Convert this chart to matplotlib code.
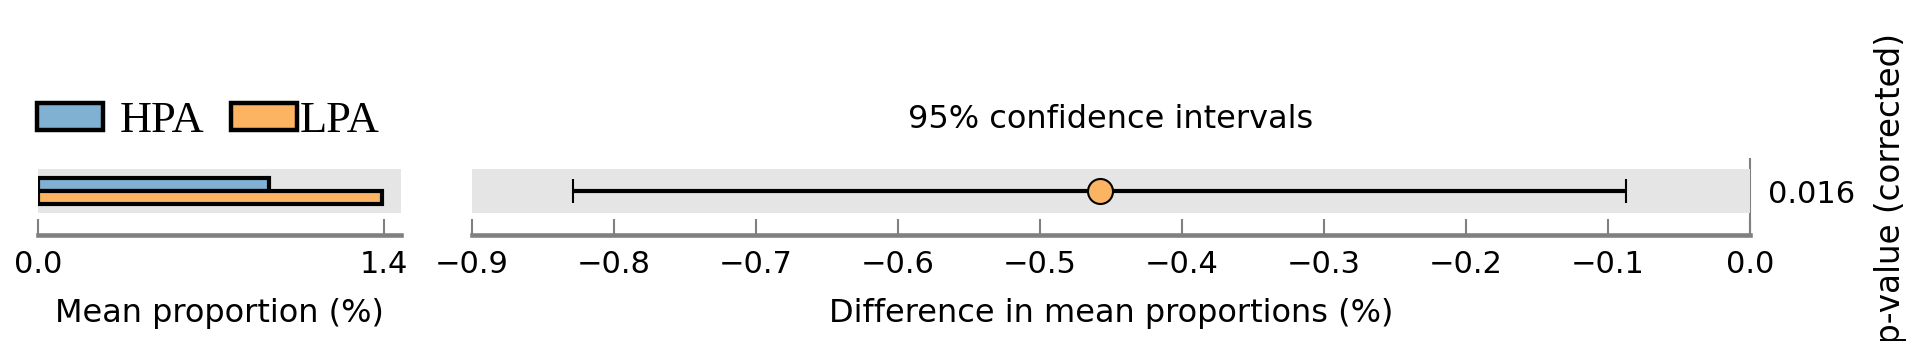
import matplotlib
matplotlib.use("Agg")
import matplotlib.pyplot as plt
from matplotlib.patches import Patch

# ── Data ────────────────────────────────────────────────────
GROUPS = ["HPA", "LPA"]
GROUP_COLORS = ["#80B1D3", "#FDB462"]
MEAN_PROP = [0.934, 1.392]          # mean proportion (%) per group
DIFF = -0.458                       # difference in mean proportions (%)
CI_LOW, CI_HIGH = -0.829, -0.087    # 95% confidence interval
P_VALUE = "0.016"
LEFT_TICKS = [0.0, 1.4]
RIGHT_TICKS = [-0.9, -0.8, -0.7, -0.6, -0.5, -0.4, -0.3, -0.2, -0.1, 0.0]

W, H, DPI = 1917, 341, 100
GRAY = "#808080"
BAND = "#E5E5E5"
plt.rcParams.update({
    "font.family": "DejaVu Sans",
    "font.size": 22,
})


def fmt(v):
    return f"{v:.1f}".replace("-", "\u2212")


fig = plt.figure(figsize=(W / DPI, H / DPI), dpi=DPI)
bottom = 1 - 234.5 / H
height = 75.5 / H
ax1 = fig.add_axes([38 / W, bottom, 363 / W, height])
ax2 = fig.add_axes([472 / W, bottom, 1278 / W, height])

YLIM = (-0.99, 0.73)


def style_axis(ax):
    for side in ("left", "top", "right"):
        ax.spines[side].set_visible(False)
    ax.spines["bottom"].set_color(GRAY)
    ax.spines["bottom"].set_linewidth(3.3)
    ax.tick_params(axis="x", direction="in", length=11.5, width=1.5,
                   color=GRAY, labelsize=22, pad=11)
    ax.set_ylim(*YLIM)
    ax.axhspan(-0.5, 0.5, color=BAND, zorder=1, lw=0)


# left panel: mean proportions
style_axis(ax1)
ax1.barh(0.15, MEAN_PROP[0], height=0.3, color=GROUP_COLORS[0],
         edgecolor="black", linewidth=3, zorder=3)
ax1.barh(-0.15, MEAN_PROP[1], height=0.3, color=GROUP_COLORS[1],
         edgecolor="black", linewidth=3, zorder=3)
ax1.set_xlim(0, 1.47)
ax1.set_xticks(LEFT_TICKS)
ax1.set_xticklabels([fmt(t) for t in LEFT_TICKS])
ax1.set_yticks([])
ax1.set_xlabel("Mean proportion (%)", fontsize=23, labelpad=14)

# right panel: difference with confidence interval
style_axis(ax2)
ax2.spines["right"].set_visible(True)
ax2.spines["right"].set_color(GRAY)
ax2.spines["right"].set_linewidth(1.5)
ax2.spines["right"].set_zorder(0.5)
ax2.errorbar(DIFF, 0, xerr=[[DIFF - CI_LOW], [CI_HIGH - DIFF]], fmt="o",
             color="black", ecolor="black", elinewidth=3, capsize=8.5,
             capthick=2, markerfacecolor=GROUP_COLORS[1],
             markeredgecolor="black", markersize=18, markeredgewidth=1.5,
             zorder=4)
ax2.set_xlim(-0.9, 0.0)
ax2.set_xticks(RIGHT_TICKS)
ax2.set_xticklabels([fmt(t) for t in RIGHT_TICKS])
ax2.yaxis.tick_right()
ax2.yaxis.set_label_position("right")
ax2.set_yticks([0])
ax2.set_yticklabels([P_VALUE])
ax2.tick_params(axis="y", length=0, pad=13, labelsize=22)
ax2.set_ylabel("p-value (corrected)", fontsize=23.5)
ax2.yaxis.set_label_coords((1874 - 472) / 1278, (234.5 - 189) / 75.5)
ax2.set_xlabel("Difference in mean proportions (%)", fontsize=23, labelpad=14)
ax2.set_title("95% confidence intervals", fontsize=23, pad=22)

# legend, one entry per group
legend_y = 1 - 121 / H
for name, color, x0, gap in zip(GROUPS, GROUP_COLORS, [37, 231], [0.38, 0.06]):
    handle = Patch(facecolor=color, edgecolor="black", linewidth=3.2)
    fig.legend(handles=[handle], labels=[name], loc="center left",
               bbox_to_anchor=(x0 / W, legend_y), frameon=False,
               borderpad=0, borderaxespad=0, handlelength=1.49,
               handleheight=0.54, handletextpad=gap,
               prop={"family": "Liberation Serif", "size": 32})

fig.savefig("out.png", dpi=DPI)
